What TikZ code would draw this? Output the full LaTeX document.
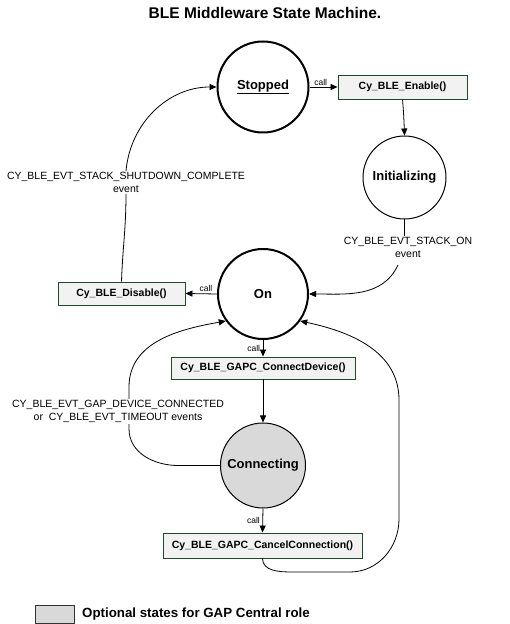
\documentclass[tikz,border=0pt]{standalone}
\usepackage{fontspec}
\setmainfont{Liberation Sans}
\usetikzlibrary{arrows.meta}
\definecolor{boxline}{RGB}{31,73,41}
\definecolor{boxfill}{RGB}{242,242,242}
\definecolor{optfill}{RGB}{217,217,217}
\tikzset{
  statecore/.style={circle, draw=black, inner sep=0pt, font=\fontsize{13}{15}\selectfont\bfseries},
  mainstate/.style={statecore, line width=2pt},
  substate/.style={statecore, line width=1pt},
  callbox/.style={rectangle, draw=boxline, fill=boxfill, line width=0.9pt, inner sep=0pt,
    font=\fontsize{10.5}{12}\selectfont\bfseries},
  evtext/.style={align=center, inner sep=1pt, font=\fontsize{10.5}{13}\selectfont},
  calltext/.style={font=\fontsize{8.5}{10}\selectfont, inner sep=1.5pt},
  link/.style={draw=black, line width=0.8pt},
  arr/.style={link, -{Triangle[length=7pt,width=6pt]}},
}
\begin{document}
\begin{tikzpicture}[x=1pt,y=1pt]
\useasboundingbox (0,0) rectangle (509,624);

\node[font=\fontsize{15.5}{17}\selectfont\bfseries] (title) at (265,611) {BLE Middleware State Machine.};

% states
\node[mainstate, minimum size=91pt] (stopped) at (263,537) {\underline{Stopped}};
\node[substate, minimum size=83pt] (init) at (404.5,446.5) {Initializing};
\node[mainstate, minimum size=90pt] (on) at (263,330) {On};
\node[substate, fill=optfill, minimum size=85pt] (conn) at (263,158.5) {Connecting};

% API calls
\node[callbox, minimum width=129pt, minimum height=24pt] (enable) at (402.5,537) {Cy\_BLE\_Enable()};
\node[callbox, minimum width=127pt, minimum height=23pt] (disable) at (121.5,330.5) {Cy\_BLE\_Disable()};
\node[callbox, minimum width=184pt, minimum height=22pt] (connect) at (263,256) {Cy\_BLE\_GAPC\_ConnectDevice()};
\node[callbox, minimum width=199pt, minimum height=25pt] (cancel) at (262.5,78.5) {Cy\_BLE\_GAPC\_CancelConnection()};

% event labels
\node[evtext] (stackon) at (408,376.5) {CY\_BLE\_EVT\_STACK\_ON\\event};
\node[evtext] (shutdown) at (126,441.5) {CY\_BLE\_EVT\_STACK\_SHUTDOWN\_COMPLETE\\event};

% waypoints of the return paths
\coordinate (lr1) at (178,158.5);
\coordinate (lr2) at (129,195);
\coordinate (lr3) at (129,237);
\coordinate (rr1) at (292,52);
\coordinate (rr2) at (350,52);
\coordinate (rr3) at (399,105);
\coordinate (rr4) at (399,224);
\coordinate (sw) at (398,359);

% transitions
\draw[arr] (stopped.east) -- node[calltext, above, pos=0.4] {call} (enable.west);
\draw[arr] (enable.south) to[out=-85,in=92] (init.north);
\draw[link] (init.south) -- (init.south |- stackon.north);
\draw[arr] (sw) to[out=-115,in=0] (on.east);
\draw[arr] (on.west) -- node[calltext, above, pos=0.35] {call} (disable.east);
\draw[link] (disable.north) to[out=88,in=-90] (shutdown.south);
\draw[arr] (shutdown.north) to[out=85,in=180] (stopped.west);
\draw[arr] (on.south) -- node[calltext, left, pos=0.5, xshift=-1pt] {call} (connect.north);
\draw[arr] (connect.south) -- (conn.north);
\draw[arr] (conn.south) -- node[calltext, left, pos=0.5, xshift=-1pt] {call} (cancel.north);

\draw[arr] (conn.west) -- (lr1) to[out=180,in=-90] (lr2) -- (lr3) to[out=90,in=190] (on.216);
\node[evtext, fill=white] (gapev) at (118,212.5) {CY\_BLE\_EVT\_GAP\_DEVICE\_CONNECTED\\or~ CY\_BLE\_EVT\_TIMEOUT events};

\draw[arr] (cancel.south) to[out=-90,in=180] (rr1) -- (rr2) to[out=0,in=-90] (rr3) -- (rr4) to[out=90,in=-12] (on.-36);

% legend
\node[rectangle, draw=black!80, fill=optfill, line width=0.8pt, minimum width=39pt, minimum height=18pt, inner sep=0pt] (legbox) at (54.5,10) {};
\node[anchor=west, inner sep=0pt, font=\fontsize{13.3}{15}\selectfont\bfseries] (legtext) at (82,10) {Optional states for GAP Central role};
\end{tikzpicture}
\end{document}
